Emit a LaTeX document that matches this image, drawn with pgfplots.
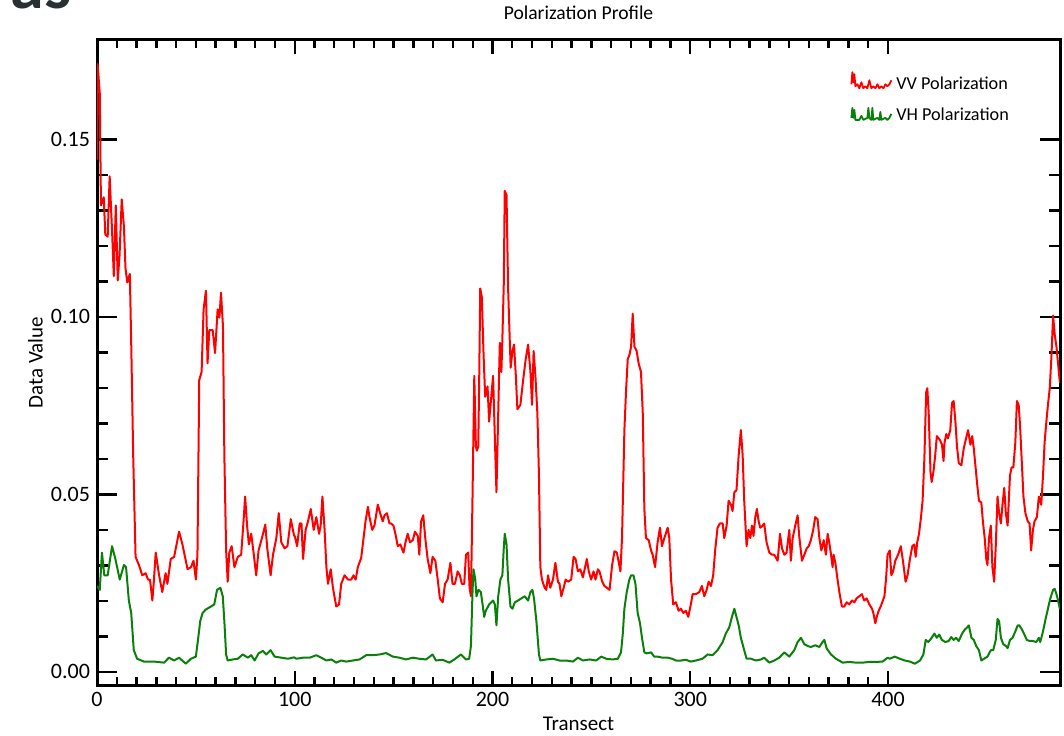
\documentclass[border=0pt]{standalone}
\usepackage{fontspec}
\setmainfont{Carlito}
\usepackage{pgfplots}
\pgfplotsset{compat=1.18}
\definecolor{vvred}{RGB}{255,0,0}
\definecolor{vhgreen}{RGB}{10,128,10}
\definecolor{asgray}{RGB}{40,48,52}
\pgfplotsset{
  vvlegend/.style={legend image code/.code={\draw[##1, line width=0.9pt] (0pt,0pt) -- (0.5pt,6pt) -- (1pt,1pt) -- (1.5pt,5pt) -- (2pt,-1pt) -- (3pt,0pt) -- (4pt,-2pt) -- (5pt,1pt) -- (6pt,-2pt) -- (7pt,-1pt) -- (8pt,-2pt) -- (9pt,2pt) -- (10pt,-2pt) -- (11pt,-1pt) -- (12pt,-2pt) -- (13pt,0pt) -- (14pt,-2pt) -- (15pt,-1pt) -- (16pt,-2pt) -- (17pt,0pt) -- (18pt,-1pt) -- (19pt,0pt) -- (20pt,2pt);}},
  vhlegend/.style={legend image code/.code={\draw[##1, line width=0.9pt] (0pt,-1pt) -- (0.5pt,4pt) -- (1pt,-1pt) -- (1.5pt,3pt) -- (2pt,-2pt) -- (4pt,-2pt) -- (5pt,0pt) -- (6pt,-2pt) -- (8pt,-1pt) -- (8.5pt,4pt) -- (9pt,-1pt) -- (10pt,-2pt) -- (10.5pt,4pt) -- (11pt,-2pt) -- (13pt,-1pt) -- (14pt,-2pt) -- (14.5pt,2pt) -- (15pt,-2pt) -- (17pt,-1pt) -- (18pt,-2pt) -- (19pt,-1pt) -- (20pt,1pt);}},
}

\begin{document}
\begin{tikzpicture}
\useasboundingbox (0pt,0pt) rectangle (532pt,367.5pt);
% cut-off heading text above the chart
\node[anchor=base east, inner sep=0pt, text=asgray,
      font=\fontsize{34}{34}\selectfont\bfseries] at (36pt,363pt) {as};
\begin{axis}[
    at={(48.5pt,25pt)}, anchor=south west,
    scale only axis, width=481.5pt, height=322.5pt,
    xmin=0, xmax=487, ymin=-0.0037, ymax=0.178,
    xtick={0,100,200,300,400}, xticklabels={0,100,200,300,400},
    ytick={0,0.05,0.10,0.15}, yticklabels={0.00,0.05,0.10,0.15},
    minor x tick num=9, minor y tick num=4,
    tick align=inside, tick pos=both,
    xticklabel pos=lower, yticklabel pos=left,
    axis line style={line width=1.5pt},
    tick style={line width=1.2pt, black},
    major tick length=10pt, minor tick length=5.5pt,
    xtick style={/pgfplots/major tick length=7pt, /pgfplots/minor tick length=4pt},
    ticklabel style={font=\fontsize{11}{13}\selectfont},
    title={Polarization Profile},
    title style={at={(axis description cs:0.5,1.023)}, anchor=center, font=\fontsize{9.8}{12}\selectfont},
    xlabel={Transect},
    xlabel style={at={(axis description cs:0.5,-0.06)}, anchor=center, font=\fontsize{10.5}{13}\selectfont},
    ylabel={Data Value},
    ylabel style={at={(axis description cs:-0.064,0.5)}, anchor=center, rotate=0, font=\fontsize{10.5}{13}\selectfont},
    legend style={draw=none, fill=none, inner sep=0pt,
        at={(axis description cs:0.782,0.952)}, anchor=north west,
        font=\fontsize{9.1}{11}\selectfont, row sep=4pt,
        cells={anchor=west}},
]
\addplot[vvred, line width=1pt, line join=round, vvlegend]
coordinates {
(0,0.1443) (0.3,0.1712) (1.4,0.163) (2,0.1314) (3.4,0.1337) (4.2,0.1232) (5.4,0.1226) (6.4,0.1396) (7.6,0.1244) (8.5,0.1115) (9.5,0.1314) (10.5,0.1103) (11.4,0.1173) (12.5,0.1331) (13.6,0.1255) (14.4,0.1138) (15.3,0.1097) (16.6,0.1121) (17.3,0.0927) (18.3,0.0611) (19.5,0.0324) (21.2,0.0301) (22.9,0.0272) (24.6,0.0278) (25.8,0.026) (26.8,0.026) (28,0.0201) (28.8,0.026) (29.7,0.0336) (31.4,0.0272) (33,0.0225) (34.7,0.0278) (35.6,0.0248) (37.3,0.0318) (39,0.0324) (41.5,0.0395) (43.2,0.0359) (45.8,0.0289) (47.5,0.0295) (48.8,0.0313) (50,0.026) (50.8,0.033) (51.7,0.0822) (52.9,0.0845) (53.9,0.1021) (55.1,0.1074) (55.9,0.0869) (56.8,0.0963) (58.5,0.0963) (59.7,0.0898) (61,0.1021) (61.9,0.0998) (62.7,0.1068) (63.7,0.0974) (64.4,0.0611) (65.3,0.0342) (66.1,0.0254) (66.9,0.0336) (68.1,0.0354) (69.5,0.0295) (71.2,0.0324) (72.9,0.033) (74.1,0.0424) (74.9,0.0494) (75.9,0.0412) (76.8,0.0359) (78,0.0389) (79.3,0.033) (80.5,0.0272) (81.7,0.0342) (83.4,0.0377) (85.1,0.0415) (86.1,0.0348) (87.8,0.0272) (89,0.033) (90.7,0.0377) (91.9,0.0447) (93.2,0.0365) (94.9,0.0348) (96.3,0.0354) (98,0.043) (99.7,0.0383)
(100,0.0383) (101.2,0.0354) (102.5,0.0418) (103.4,0.0418) (104.2,0.0318) (105.5,0.040) (106.7,0.0424) (108.1,0.0459) (109.6,0.040) (110.9,0.0436) (112.3,0.0389) (113.1,0.0412) (114,0.0494) (115.1,0.040) (116,0.0295) (116.8,0.0248) (118.2,0.0289) (119.3,0.0237) (121,0.0184) (122.4,0.019) (123.5,0.0248) (125.2,0.0272) (126.9,0.026) (128.6,0.026) (129.7,0.0272) (130.8,0.026) (131.9,0.0295) (133.6,0.0321) (134.8,0.0377) (135.8,0.0424) (137,0.0465) (137.8,0.0436) (139.2,0.040) (140.3,0.0412) (142,0.0471) (143.2,0.0447) (144.5,0.0424) (145.4,0.0441) (146.6,0.0447) (147.9,0.0418) (148.7,0.0418) (149.9,0.0412) (150.9,0.0389) (152.1,0.0354) (153.4,0.0359) (155,0.0336) (156,0.0365) (157.1,0.0389) (158.3,0.0365) (159.7,0.0371) (160.8,0.0395) (162.2,0.0383) (163,0.033) (163.9,0.0424) (165,0.0441) (166,0.0377) (167.2,0.0318) (168.6,0.0278) (169.7,0.0324) (171.1,0.0313) (172.3,0.026) (173.4,0.0207) (174.8,0.0196) (176,0.0248) (177.3,0.026) (178.7,0.0307) (179.8,0.0248) (181,0.0248) (182.4,0.0283) (183.5,0.0272) (184.5,0.0248) (185.7,0.0248) (186.6,0.033) (187.7,0.0336) (188.4,0.0237) (189.1,0.0213) (189.9,0.0494) (190.8,0.0834) (191.6,0.0635) (192.1,0.0623) (192.8,0.0635) (193.3,0.0834) (193.8,0.108) (194.6,0.1056) (195.5,0.0892) (196.3,0.0775) (197.5,0.0804) (198.3,0.0705) (199.2,0.0763)
(200.3,0.0834) (201.2,0.0658) (202,0.0506) (202.9,0.0728) (203.7,0.0927) (204.5,0.0845) (205,0.0939) (205.7,0.1091) (206.2,0.1355) (207.1,0.1343) (207.9,0.108) (208.7,0.0939) (209.2,0.0857) (210.1,0.0904) (210.9,0.0922) (211.8,0.0834) (212.6,0.074) (214.1,0.0752) (215.5,0.0822) (216.8,0.0881) (218,0.0922) (219.2,0.0845) (220,0.0752) (220.8,0.0904) (221.7,0.0834) (222.7,0.0728) (223.5,0.0553) (224.2,0.0295) (225,0.026) (226.4,0.0237) (227.2,0.0231) (228.1,0.0272) (229.2,0.0237) (230.6,0.026) (231.8,0.0307) (233.1,0.0254) (233.9,0.0248) (234.8,0.0213) (236,0.0237) (237,0.026) (238.2,0.0254) (239.8,0.026) (241,0.0324) (242,0.0318) (243.2,0.0283) (244.4,0.0289) (245.7,0.0266) (246.6,0.0289) (247.7,0.0318) (248.7,0.0283) (249.9,0.026) (251.1,0.0283) (252.1,0.026) (253.3,0.0289) (254.1,0.0283) (255.5,0.0254) (256.6,0.0242) (257.8,0.0237) (259.2,0.0231) (260.5,0.0301) (261.7,0.034) (262.9,0.0336) (263.9,0.0307) (264.7,0.0283) (265.5,0.0377) (266.2,0.0553) (266.7,0.0681) (267.6,0.0799) (268.4,0.0881) (269.2,0.0892) (270.1,0.0916) (270.9,0.1009) (271.8,0.0916) (272.9,0.0904) (273.9,0.0869) (275.1,0.0845) (276,0.0728) (276.8,0.0459) (277.6,0.0377) (279,0.0371) (280.2,0.0342) (281,0.033) (282.2,0.0295) (283.5,0.0365) (284.7,0.0406) (285.7,0.0354) (286.9,0.0377) (288.6,0.0406) (289.4,0.0377) (290.3,0.026) (291.4,0.019) (292.8,0.0196) (294.1,0.0172) (295.3,0.0178) (296.5,0.0166) (297.8,0.0172) (299,0.0155)
(300.3,0.019) (301.2,0.0219) (302.9,0.0219) (304.6,0.0225) (305.9,0.0242) (307.1,0.0213) (308.3,0.0231) (309.3,0.0254) (310.5,0.0242) (311.6,0.0272) (312.6,0.0342) (313.8,0.0406) (315,0.0418) (316.4,0.0418) (317.2,0.0377) (318.4,0.0412) (319.4,0.0482) (320.6,0.0471) (321.4,0.0453) (322.3,0.0506) (323.4,0.0512) (324.5,0.0611) (325.6,0.0681) (326.5,0.0611) (327.3,0.0482) (328.5,0.0354) (329.5,0.040) (330.4,0.0377) (331.2,0.0412) (332,0.0383) (332.9,0.0436) (333.7,0.0459) (334.6,0.0424) (335.4,0.0406) (336.6,0.0412) (337.4,0.0418) (338.6,0.0365) (340,0.0336) (341.3,0.033) (342.5,0.033) (344.2,0.0313) (345.4,0.0389) (346.4,0.0348) (347.6,0.033) (348.7,0.0336) (350.1,0.040) (350.9,0.0313) (351.8,0.0377) (353.1,0.0412) (354.3,0.0441) (355.1,0.0383) (356.5,0.0313) (357.7,0.033) (358.9,0.0348) (359.9,0.0354) (361,0.0371) (362.2,0.040) (363.2,0.0436) (364.4,0.043) (365.3,0.0377) (366.3,0.0342) (367.5,0.0371) (368.6,0.033) (369.5,0.0389) (370.3,0.0365) (371.2,0.033) (372,0.0295) (372.5,0.033) (373.4,0.0307) (374.5,0.026) (375.4,0.0225) (376.7,0.0184) (377.9,0.0184) (379.1,0.0196) (380.4,0.019) (381.8,0.0201) (383,0.0196) (384.1,0.0207) (385.5,0.0213) (386.8,0.0219) (388,0.0201) (389.2,0.0207) (390.6,0.019) (391.9,0.0178) (392.6,0.0166) (393.6,0.0137) (394.3,0.0155) (395.3,0.0172) (396.5,0.0187) (398.2,0.0213) (399,0.026) (399.8,0.033)
(400.9,0.0342) (401.7,0.0272) (402.6,0.0283) (403.7,0.0313) (405.1,0.033) (406.5,0.0354) (407.7,0.0307) (408.9,0.0254) (409.9,0.0272) (411.1,0.0318) (412.3,0.0354) (413.3,0.0359) (414,0.0324) (414.8,0.0365) (415.7,0.0389) (416.7,0.0436) (417.5,0.0482) (418.4,0.06) (419.3,0.0787) (419.9,0.0799) (420.6,0.0728) (421.5,0.0564) (422.1,0.0535) (423,0.0564) (423.9,0.0611) (424.7,0.0664) (425.6,0.0658) (426.4,0.0652) (427.3,0.064) (428.1,0.0594) (428.6,0.0646) (429.5,0.067) (430.3,0.0658) (431.5,0.0681) (432.4,0.0758) (433.2,0.0763) (434.1,0.0705) (434.9,0.0635) (435.8,0.0588) (437.1,0.0582) (438.3,0.0629) (439.5,0.0658) (440.5,0.0681) (441.7,0.064) (442.6,0.0664) (443.4,0.0629) (444.3,0.0576) (445.1,0.0529) (446,0.0482) (447.2,0.0477) (448,0.0424) (448.9,0.0377) (449.7,0.0318) (450.3,0.0301) (451.1,0.0377) (452,0.0412) (452.8,0.0295) (453.7,0.0254) (454.5,0.0354) (455.4,0.0494) (456.2,0.0447) (457.1,0.0418) (457.9,0.0471) (458.8,0.0518) (459.6,0.0447) (460.5,0.0412) (461.7,0.0553) (462.5,0.0576) (463.4,0.0576) (464.4,0.0646) (465.2,0.0763) (466.1,0.0752) (466.8,0.0693) (467.6,0.06) (468.5,0.0494) (469.5,0.0447) (470.7,0.0424) (471.6,0.0418) (472.4,0.0342) (473.3,0.040) (474.1,0.0424) (475.3,0.0436) (476.3,0.0494) (477.5,0.0471) (478.4,0.0553) (479.2,0.0646) (480.1,0.0705) (480.9,0.0752) (481.8,0.0799) (482.6,0.0881) (483.5,0.1004) (484.3,0.0951) (485.2,0.0916) (486,0.0869) (486.9,0.0816) (487.7,0.0816)
};
\addlegendentry{VV Polarization}
\addplot[vhgreen, line width=1pt, line join=round, vhlegend]
coordinates {
(0,0.0242) (1.4,0.0231) (2.5,0.0336) (3.7,0.0272) (5.4,0.0272) (7.6,0.0354) (9.3,0.0318) (11.5,0.026) (13.6,0.0301) (14.7,0.0295) (16.1,0.0201) (17.3,0.0166) (18.6,0.0061) (20.3,0.0037) (23.7,0.0029) (28.8,0.0029) (33.9,0.0026) (36.4,0.004) (39,0.0032) (41.5,0.004) (44.9,0.0023) (47.5,0.0037) (50,0.0043) (51.2,0.0096) (52.2,0.0143) (53.4,0.0166) (55.1,0.0176) (57.6,0.0184) (59.3,0.019) (60.7,0.0231) (62.4,0.0237) (63.6,0.0213) (64.4,0.0143) (65.3,0.0049) (66.1,0.0032) (68.6,0.0035) (71.2,0.0037) (73.7,0.0049) (76.3,0.004) (78,0.0047) (79.7,0.0032) (81.7,0.0052) (83.9,0.0059) (85.6,0.0049) (87.8,0.0061) (89.8,0.0043) (93.2,0.004) (96.6,0.0037) (99.7,0.0041)
(100.8,0.0037) (104.2,0.004) (107.6,0.004) (110.9,0.0047) (113.4,0.004) (116,0.0032) (118.5,0.0035) (121,0.0026) (123.5,0.0032) (126,0.0029) (129.4,0.0032) (132.8,0.0035) (136.1,0.0047) (139.5,0.0047) (142.9,0.0049) (146.2,0.0053) (149.6,0.0043) (152.9,0.004) (156.3,0.0035) (159.7,0.004) (163,0.0037) (166.4,0.0035) (169.7,0.0049) (171.4,0.0032) (174.8,0.0034) (178.2,0.0026) (180.7,0.0035) (184,0.0049) (186.6,0.0035) (188.2,0.0037) (189.1,0.0073) (189.9,0.0225) (190.4,0.0289) (191.3,0.026) (191.9,0.0213) (192.9,0.0231) (194.1,0.0225) (195,0.019) (195.8,0.0155) (196.6,0.0172) (198.3,0.019) (199.2,0.0195)
(200.3,0.0201) (201.2,0.019) (202,0.0131) (202.9,0.0213) (204,0.026) (205,0.0272) (205.7,0.0348) (206.2,0.0389) (207.1,0.0359) (207.9,0.026) (209.1,0.0184) (210.1,0.0178) (211.3,0.0196) (212.9,0.0201) (214.6,0.0207) (216.3,0.0213) (218,0.0201) (219.2,0.0225) (220.2,0.0231) (221,0.0207) (222.2,0.0143) (223.5,0.0049) (224.2,0.0032) (227.2,0.0035) (230.6,0.0037) (233.9,0.0032) (237.3,0.0032) (240.7,0.0029) (243.2,0.004) (245.7,0.0032) (249.1,0.0035) (252.4,0.0032) (255,0.0043) (257.5,0.0037) (260.8,0.0035) (263.4,0.0037) (265,0.0055) (265.9,0.0108) (266.7,0.0178) (267.9,0.0225) (269.2,0.026) (270.1,0.0272) (271.3,0.0272) (272.3,0.0248) (273.4,0.0166) (274.6,0.0137) (275.6,0.0096) (276.8,0.0055) (278,0.0052) (280.2,0.0055) (281.8,0.0043) (283.5,0.0043) (286,0.004) (288.6,0.004) (290.8,0.0037) (292.8,0.0032) (295.3,0.0032) (297.8,0.0034) (300.3,0.0029)
(302.9,0.0032) (306.2,0.0037) (308.8,0.0049) (311.3,0.0047) (313.8,0.0061) (316.4,0.0084) (318,0.0108) (319.7,0.0125) (321.1,0.0155) (322.3,0.0178) (323.1,0.0161) (324.5,0.0131) (325.6,0.0096) (327.3,0.0061) (328.5,0.0037) (330.7,0.0037) (333.2,0.0032) (335.8,0.0035) (337.4,0.004) (340,0.0026) (342.5,0.0032) (345,0.004) (347.6,0.0055) (350.1,0.0043) (352.6,0.0061) (354.3,0.0084) (356,0.0096) (357.7,0.0078) (359.4,0.0073) (361,0.007) (363.2,0.0075) (365.3,0.007) (366.9,0.0084) (367.8,0.009) (369,0.0066) (371.2,0.0049) (373.7,0.0037) (377.1,0.0026) (380.4,0.0028) (383.8,0.0026) (387.2,0.0026) (390.6,0.0028) (393.9,0.0028) (397.3,0.0029) (399.8,0.004)
(400.9,0.0037) (403.4,0.0043) (406,0.0037) (408.5,0.0032) (411.1,0.0029) (413.6,0.0023) (416.2,0.0032) (417.9,0.0049) (419.1,0.009) (420.4,0.0084) (422.1,0.0096) (423.5,0.0108) (424.7,0.0096) (425.9,0.0105) (427.3,0.009) (429,0.0084) (430.7,0.0087) (432,0.0098) (433.2,0.009) (434.4,0.0096) (435.8,0.0087) (437.5,0.0108) (438.8,0.0119) (440,0.0125) (440.9,0.0131) (442.2,0.0096) (443.4,0.009) (444.6,0.0073) (446,0.0061) (447.2,0.0032) (448.6,0.0037) (450.3,0.0043) (452,0.0061) (453.2,0.0061) (454.5,0.009) (455.4,0.0149) (456.2,0.0143) (457.1,0.0096) (458.3,0.0078) (459.6,0.0073) (460.5,0.0067) (461.7,0.009) (463,0.0096) (464.4,0.0114) (465.6,0.0131) (466.4,0.0131) (467.8,0.0119) (469,0.0105) (470.2,0.009) (471.6,0.0087) (473.3,0.0087) (475,0.0084) (476.3,0.0096) (477,0.0084) (478.4,0.0114) (479.7,0.0149) (480.9,0.0178) (482.1,0.0207) (483.5,0.0231) (484.3,0.0234) (485.2,0.0219) (486,0.0201) (486.9,0.0178) (487.7,0.019)
};
\addlegendentry{VH Polarization}
\end{axis}
\end{tikzpicture}
\end{document}
